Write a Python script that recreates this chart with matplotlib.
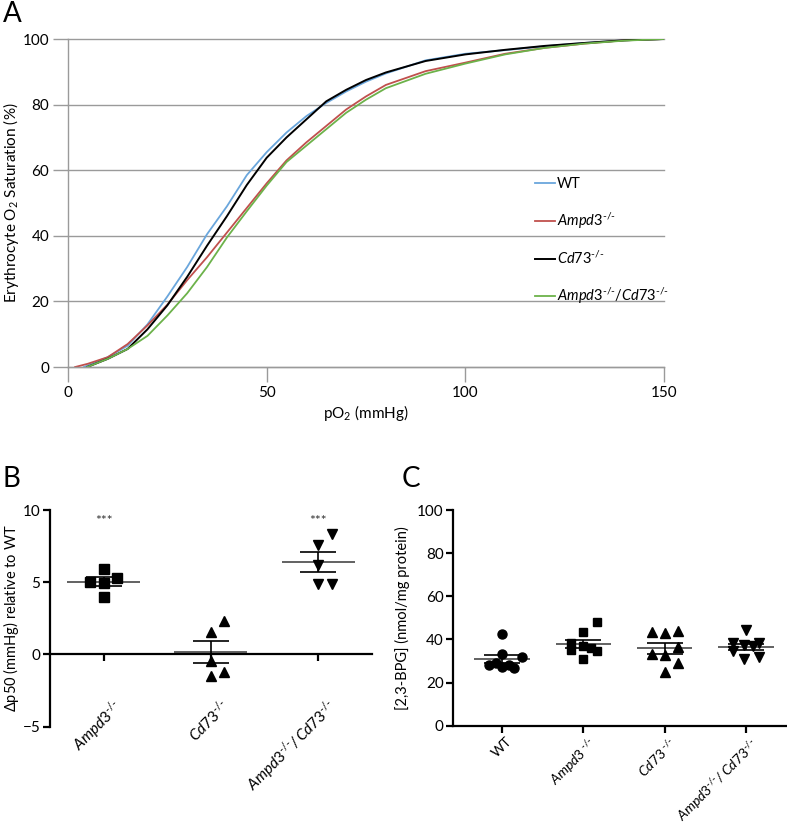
import numpy as np
import matplotlib
matplotlib.use("Agg")
import matplotlib.pyplot as plt
from matplotlib.transforms import ScaledTranslation

plt.rcParams['font.family'] = ['Lato', 'DejaVu Sans']
plt.rcParams['mathtext.fontset'] = 'custom'
plt.rcParams['mathtext.rm'] = 'Lato'
plt.rcParams['mathtext.it'] = 'Lato:italic'

# ---- panel A: O2 saturation curves
po2_wt = [4, 5, 10, 15, 20, 25, 30, 35, 40, 45, 50, 55, 60, 65, 70, 75, 80, 90, 100, 110, 120, 130, 140, 150]
sat_wt = [0, 0.5, 3, 6.5, 13, 21.5, 30.5, 40.5, 49, 58.5, 65.5, 71.5, 76.5, 80.5, 84, 87, 89.5, 93.5, 95.5, 96.6, 97.8, 98.8, 99.6, 100]
po2_ampd3 = [1.8, 5, 10, 15, 20, 25, 30, 35, 40, 45, 50, 55, 60, 65, 70, 75, 80, 90, 100, 110, 120, 130, 140, 150]
sat_ampd3 = [0, 1, 3, 7, 12.7, 19, 26.5, 33.5, 41, 48.5, 56, 63, 68.5, 73.5, 78.5, 82.5, 86, 90.2, 92.8, 95.5, 97.3, 98.6, 99.6, 100]
po2_cd73 = [4.8, 10, 15, 20, 25, 30, 35, 40, 45, 50, 55, 60, 65, 70, 75, 80, 90, 100, 110, 120, 130, 140, 150]
sat_cd73 = [0, 2.5, 5.5, 11.5, 18.8, 27.5, 37, 46, 55.5, 63.8, 70, 75.5, 81, 84.5, 87.5, 89.8, 93.3, 95.3, 96.7, 97.9, 98.8, 99.6, 100]
po2_dko = [4.8, 10, 15, 20, 25, 30, 35, 40, 45, 50, 55, 60, 65, 70, 75, 80, 90, 100, 110, 120, 130, 140, 150]
sat_dko = [0, 2.5, 5.5, 9.5, 15.7, 22.5, 30.5, 39.5, 47.5, 55.3, 62.5, 67.5, 72.5, 77.5, 81.5, 85, 89.4, 92.5, 95.3, 97.3, 98.6, 99.5, 100]

ko = r"^{\text{-/-}}"
lab_wt = "WT"
lab_ampd3 = r"$\mathit{Ampd3}" + ko + "$"
lab_cd73 = r"$\mathit{Cd73}" + ko + "$"
lab_dko = r"$\mathit{Ampd3}" + ko + r"/\mathit{Cd73}" + ko + "$"

# ---- panel B: delta p50 (mmHg) vs WT
b_cats = [lab_ampd3, lab_cd73, r"$\mathit{Ampd3}" + ko + r"/\,\mathit{Cd73}" + ko + "$"]
b_ampd3 = [5.89, 5.03, 4.96, 5.26, 3.97]
b_ampd3_dx = [0, -0.125, 0, 0.125, 0]
b_cd73 = [2.35, 1.57, -0.46, -1.2, -1.5]
b_cd73_dx = [0.125, 0, 0, 0.125, 0]
b_dko = [8.35, 7.57, 6.18, 4.89, 4.89]
b_dko_dx = [0.125, 0, 0, 0, 0.125]
b_sig = ["***", "", "***"]

# ---- panel C: [2,3-BPG]
c_cats = ["WT", r"$\mathit{Ampd3}^{\ \text{-/-}}$", r"$\mathit{Cd73}^{\ \text{-/-}}$",
          r"$\mathit{Ampd3}" + ko + r"/\,\mathit{Cd73}" + ko + "$"]
c_wt = [42.5, 33.2, 32.0, 28.1, 29.2, 27.1, 28.1, 26.6]
c_wt_dx = [0, 0, 0.24, -0.16, -0.074, 0, 0.09, 0.15]
c_ampd3 = [48.2, 43.6, 38.2, 35.1, 37.1, 35.9, 34.8, 30.8]
c_ampd3_dx = [0.17, 0, -0.15, -0.15, 0, 0.095, 0.17, 0]
c_cd73 = [43.6, 42.8, 44.1, 36.6, 33.2, 32.8, 28.9, 25.0]
c_cd73_dx = [-0.155, 0, 0.157, 0.165, -0.155, 0, 0.157, 0]
c_dko = [44.4, 38.2, 34.5, 37.5, 37.0, 38.2, 30.8, 31.7]
c_dko_dx = [0, -0.164, -0.164, -0.02, 0.08, 0.16, -0.02, 0.16]

fig = plt.figure(figsize=(7.87, 8.30), dpi=100)

# ---------------- A
axA = fig.add_axes([0.0864, 0.5578, 0.7573, 0.3952])
gray = "#9a9a9a"
axA.plot(po2_wt, sat_wt, color="#6aa6dc", lw=1.3, label=lab_wt)
axA.plot(po2_ampd3, sat_ampd3, color="#c0504d", lw=1.3, label=lab_ampd3)
axA.plot(po2_cd73, sat_cd73, color="black", lw=1.4, label=lab_cd73)
axA.plot(po2_dko, sat_dko, color="#6cb24a", lw=1.3, label=lab_dko)
axA.set_xlim(0, 150); axA.set_ylim(0, 100)
axA.set_xticks([0, 50, 100, 150]); axA.set_yticks([0, 20, 40, 60, 80, 100])
axA.yaxis.grid(True, color=gray, lw=1)
for gl in axA.get_ygridlines():
    gl.set_clip_on(False)
axA.set_axisbelow(True)
for s in ["top", "right"]:
    axA.spines[s].set_visible(False)
for s in ["left", "bottom"]:
    axA.spines[s].set_color(gray); axA.spines[s].set_linewidth(1)
axA.tick_params(length=10.5, width=1, color=gray, labelsize=11, pad=3)
axA.set_xlabel(r"pO$_2$ (mmHg)", fontsize=11, labelpad=2)
axA.set_ylabel(r"Erythrocyte O$_2$ Saturation (%)", fontsize=11, labelpad=1)
axA.legend(loc="upper left", bbox_to_anchor=(0.783, 0.578), frameon=False, fontsize=10.5,
           handlelength=1.4, handletextpad=0.15, labelspacing=1.3, borderpad=0, borderaxespad=0)

# ---------------- helpers for dot plots
def dotplot(ax, pos, vals, dx, marker, ms):
    vals = np.asarray(vals)
    ax.plot(pos + np.asarray(dx), vals, linestyle="none", marker=marker, ms=ms, color="black", zorder=3)
    m = vals.mean(); sem = vals.std(ddof=1) / np.sqrt(len(vals))
    ax.hlines(m, pos - 0.34, pos + 0.34, color="#555555", lw=1.3, zorder=2)
    ax.errorbar(pos, m, yerr=sem, color="black", lw=1.2, capsize=13, capthick=1.2, zorder=2)

def style_dot_axis(ax):
    for s in ["top", "right"]:
        ax.spines[s].set_visible(False)
    for s in ["left", "bottom"]:
        ax.spines[s].set_linewidth(1.6)
    ax.tick_params(axis="y", length=5, width=1.6, labelsize=11, pad=2)
    ax.tick_params(axis="x", length=5, width=1.6, labelsize=10.5)

# ---------------- B
axB = fig.add_axes([0.0635, 0.1245, 0.409, 0.261])
dotplot(axB, 1, b_ampd3, b_ampd3_dx, "s", 6.5)
dotplot(axB, 2, b_cd73, b_cd73_dx, "^", 7)
dotplot(axB, 3, b_dko, b_dko_dx, "v", 7)
for i, s in enumerate(b_sig):
    if s:
        axB.text(i + 1, 8.85, s, ha="center", va="bottom", fontsize=10, color="#333333")
axB.set_xlim(0.5, 3.5); axB.set_ylim(-5, 10)
axB.set_yticks([-5, 0, 5, 10])
axB.spines["bottom"].set_position(("data", 0))
style_dot_axis(axB)
axB.tick_params(axis="x", pad=25, labelsize=11)
axB.set_xticks([1, 2, 3])
axB.set_xticklabels(b_cats, rotation=45, ha="right", va="top", rotation_mode="anchor")
for lbl in axB.get_xticklabels():
    lbl.set_transform(lbl.get_transform() + ScaledTranslation(0.08, 0, fig.dpi_scale_trans))
axB.set_ylabel(r"$\Delta$p50 (mmHg) relative to WT", fontsize=10.5, labelpad=1)

# ---------------- C
axC = fig.add_axes([0.576, 0.1257, 0.4237, 0.2598])
dotplot(axC, 1, c_wt, c_wt_dx, "o", 6.5)
dotplot(axC, 2, c_ampd3, c_ampd3_dx, "s", 6.2)
dotplot(axC, 3, c_cd73, c_cd73_dx, "^", 6.8)
dotplot(axC, 4, c_dko, c_dko_dx, "v", 6.8)
axC.set_xlim(0.4, 4.5); axC.set_ylim(0, 100)
axC.set_yticks([0, 20, 40, 60, 80, 100])
style_dot_axis(axC)
axC.tick_params(axis="x", pad=2, labelsize=10)
axC.set_xticks([1, 2, 3, 4])
axC.set_xticklabels(c_cats, rotation=45, ha="right", va="top", rotation_mode="anchor")
for lbl in axC.get_xticklabels():
    lbl.set_transform(lbl.get_transform() + ScaledTranslation(0.04, 0, fig.dpi_scale_trans))
axC.set_ylabel("[2,3-BPG] (nmol/mg protein)", fontsize=10.5, labelpad=5)

# panel letters
fig.text(0.004, 0.999, "A", fontsize=20, va="top", ha="left")
fig.text(0.003, 0.439, "B", fontsize=20, va="top", ha="left")
fig.text(0.510, 0.439, "C", fontsize=20, va="top", ha="left")

fig.savefig("out.png", dpi=100)
